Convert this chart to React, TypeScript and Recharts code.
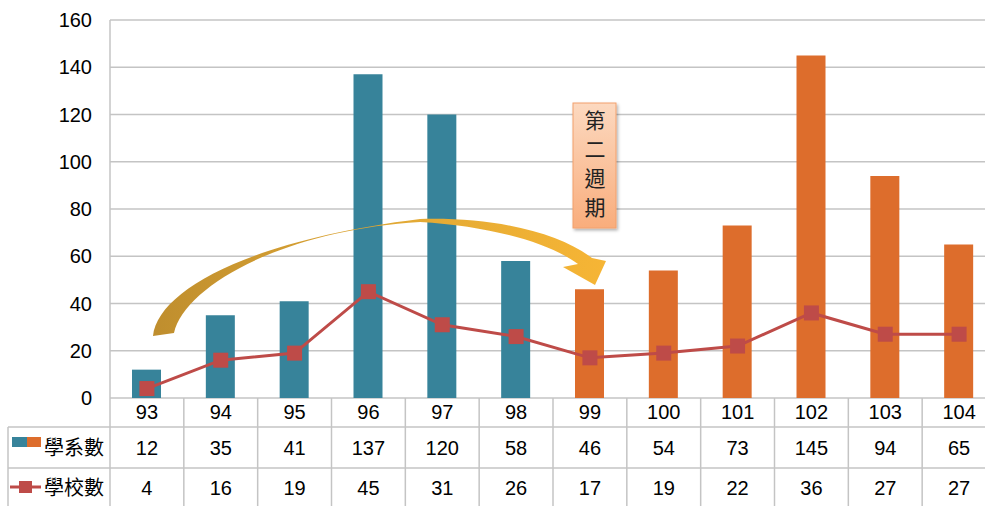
import { Bar, CartesianGrid, Cell, ComposedChart, Line, XAxis, YAxis } from "recharts";

const years = ["93", "94", "95", "96", "97", "98", "99", "100", "101", "102", "103", "104"];
const departments = [12, 35, 41, 137, 120, 58, 46, 54, 73, 145, 94, 65];
const schools = [4, 16, 19, 45, 31, 26, 17, 19, 22, 36, 27, 27];
const yTicks = [0, 20, 40, 60, 80, 100, 120, 140, 160];
const firstCycleCount = 6;

const TEAL = "#37839A";
const ORANGE = "#DD6D2C";
const RED = "#BE4B48";
const GRID = "#C4C4C4";
const FONT = "'Liberation Sans', Arial, 'Noto Sans CJK TC', sans-serif";
const CJK = "'Noto Sans CJK TC', 'Liberation Sans', sans-serif";

const W = 996;
const H = 506;
const PLOT_LEFT = 110;
const PLOT_BOTTOM = 398;
const BAND = (W - PLOT_LEFT) / years.length;

const chartData = years.map((year, i) => ({
  year,
  departments: departments[i],
  schools: schools[i],
}));

function TableTick(props: any) {
  const { x, payload } = props;
  const i = payload.index;
  const left = x - BAND / 2;
  return (
    <g>
      <line x1={left} x2={left} y1={PLOT_BOTTOM} y2={H} stroke={GRID} strokeWidth={1.5} />
      <text x={x} y={419} textAnchor="middle" fontSize={20} fontFamily={FONT} fill="#000">
        {payload.value}
      </text>
      <text x={x} y={455} textAnchor="middle" fontSize={20} fontFamily={FONT} fill="#000">
        {departments[i]}
      </text>
      <text x={x} y={495} textAnchor="middle" fontSize={20} fontFamily={FONT} fill="#000">
        {schools[i]}
      </text>
    </g>
  );
}

function SquareDot(props: any) {
  const { cx, cy, index } = props;
  if (cx == null || cy == null) return <g key={index} />;
  return <rect key={index} x={cx - 7.5} y={cy - 7.5} width={15} height={15} fill={RED} />;
}

function Overlay() {
  return (
    <svg
      width={W}
      height={H}
      style={{ position: "absolute", left: 0, top: 0, pointerEvents: "none" }}
    >
      <defs>
        <linearGradient id="arrowGrad" x1="0" y1="0" x2="1" y2="0">
          <stop offset="0%" stopColor="#BF8E2E" />
          <stop offset="55%" stopColor="#E2A934" />
          <stop offset="100%" stopColor="#F6B535" />
        </linearGradient>
        <linearGradient id="boxGrad" x1="0" y1="0" x2="0" y2="1">
          <stop offset="0%" stopColor="#FCD9C0" />
          <stop offset="100%" stopColor="#F9AD7C" />
        </linearGradient>
        <filter id="shadow" x="-20%" y="-10%" width="150%" height="130%">
          <feDropShadow dx="1.5" dy="2" stdDeviation="1.5" floodColor="#000" floodOpacity="0.3" />
        </filter>
      </defs>

      {/* table left column */}
      <line x1={8} x2={W} y1={427} y2={427} stroke={GRID} strokeWidth={1.5} />
      <line x1={8} x2={W} y1={468} y2={468} stroke={GRID} strokeWidth={1.5} />
      <line x1={8} x2={8} y1={427} y2={H} stroke={GRID} strokeWidth={1.5} />
      <rect x={12} y={437} width={15} height={10} fill={TEAL} />
      <rect x={27} y={437} width={14} height={10} fill={ORANGE} />
      <text x={44} y={455} fontSize={20} fontFamily={CJK} fill="#000">學系數</text>
      <line x1={10} x2={41} y1={487} y2={487} stroke={RED} strokeWidth={3} />
      <rect x={19} y={481} width={13} height={12} fill={RED} />
      <text x={44} y={495} fontSize={20} fontFamily={CJK} fill="#000">學校數</text>

      {/* curved arrow */}
      <path
        d="M 153 336 C 158 290, 250 240, 420 219 C 500 217, 560 234, 592 258 L 606 261 L 595 285 L 563 267 L 578 264 C 550 243, 490 226, 420 222 C 285 230, 185 285, 174 333 Z"
        fill="url(#arrowGrad)"
      />

      {/* second cycle label */}
      <rect
        x={573}
        y={103}
        width={43}
        height={125}
        fill="url(#boxGrad)"
        stroke="#F2A06C"
        strokeWidth={1}
        filter="url(#shadow)"
      />
      {["第", "二", "週", "期"].map((ch, i) => (
        <text
          key={ch}
          x={595}
          y={128 + i * 29}
          textAnchor="middle"
          fontSize={21}
          fontFamily={CJK}
          fill="#222"
        >
          {ch}
        </text>
      ))}
    </svg>
  );
}

export default function App() {
  return (
    <div
      style={{
        position: "absolute",
        left: 0,
        top: 0,
        width: 985,
        height: H,
        overflow: "hidden",
        background: "#fff",
      }}
    >
      <ComposedChart
        width={W}
        height={H}
        data={chartData}
        margin={{ top: 20, right: 0, left: 0, bottom: H - PLOT_BOTTOM - 29 }}
      >
        <CartesianGrid vertical={false} stroke={GRID} strokeWidth={1.5} />
        <XAxis
          dataKey="year"
          height={29}
          axisLine={false}
          tickLine={false}
          interval={0}
          tick={<TableTick />}
        />
        <YAxis
          width={PLOT_LEFT}
          domain={[0, 160]}
          ticks={yTicks}
          axisLine={{ stroke: GRID, strokeWidth: 1.5 }}
          tickLine={false}
          tickMargin={12}
          tick={{ fontSize: 20, fill: "#000", fontFamily: FONT }}
        />
        <Bar dataKey="departments" barSize={29} isAnimationActive={false}>
          {chartData.map((d, i) => (
            <Cell key={d.year} fill={i < firstCycleCount ? TEAL : ORANGE} />
          ))}
        </Bar>
        <Line
          type="linear"
          dataKey="schools"
          stroke={RED}
          strokeWidth={3}
          dot={<SquareDot />}
          activeDot={false}
          isAnimationActive={false}
        />
      </ComposedChart>
      <Overlay />
    </div>
  );
}
